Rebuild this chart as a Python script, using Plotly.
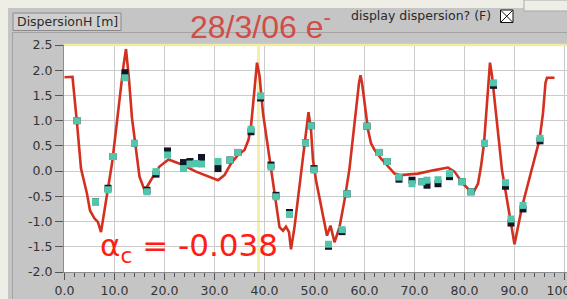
import plotly.graph_objects as go

# ---------------- data ----------------
line_x = [0, 1.6, 2.5, 3.3, 4.5, 5.1, 6.0, 6.7, 7.3, 8.2, 8.8, 9.5, 10.0, 11.0, 11.8, 12.3,
          12.9, 13.5, 14.2, 15.0, 15.9, 16.5, 17.7, 19.0, 20.8, 23.7, 26.3, 29.0, 30.7, 32.0,
          33.3, 34.7, 36.0, 36.8, 37.3, 38.0, 38.5, 39.0, 39.7, 40.5, 41.3, 42.3, 43.0, 43.7,
          44.3, 44.9, 45.3, 46.0, 47.0, 48.0, 48.5, 48.8, 49.3, 49.7, 50.3, 51.3, 52.1, 52.5,
          53.2, 54.0, 55.0, 56.0, 57.0, 57.7, 58.3, 58.9, 59.2, 59.5, 60.1, 60.7, 61.3, 62.0,
          63.3, 64.7, 66.0, 67.3, 70.7, 74.0, 76.7, 78.0, 79.7, 81.0, 81.9, 82.7, 83.3, 83.9,
          84.5, 84.9, 85.1, 85.5, 86.2, 87.0, 87.5, 88.3, 89.0, 89.7, 90.0, 90.7, 91.5, 92.7,
          93.7, 95.0, 95.7, 96.2, 96.5, 98.0]
line_d = [1.86, 1.87, 0.95, 0.05, -0.45, -0.78, -0.94, -1.01, -1.21, -0.65, -0.31, 0.15, 0.56,
          1.45, 2.09, 2.42, 1.82, 1.05, 0.45, -0.11, -0.35, -0.31, -0.11, 0.09, 0.23, 0.12,
          -0.01, -0.11, -0.18, -0.08, 0.15, 0.32, 0.42, 0.62, 0.89, 1.62, 2.15, 1.89, 1.15,
          0.6, 0.05, -0.55, -1.11, -1.18, -1.10, -1.21, -1.55, -1.11, -0.31, 0.42, 0.9, 1.17,
          0.82, 0.22, -0.18, -0.65, -1.05, -1.28, -1.08, -1.41, -1.11, -0.58, 0.05, 0.69, 1.29,
          1.75, 1.90, 1.75, 1.29, 0.82, 0.55, 0.42, 0.25, 0.09, -0.05, -0.08, -0.05, 0.02, 0.07,
          -0.01, -0.25, -0.38, -0.40, -0.25, 0.09, 0.55, 1.29, 1.89, 2.15, 1.89, 1.29, 0.49,
          0.02, -0.45, -0.85, -1.25, -1.45, -1.11, -0.71, -0.25, 0.15, 0.62, 1.15, 1.75, 1.85,
          1.85]

bpm_x = [2.5, 6.2, 8.7, 9.7, 12.1, 14.0, 16.5, 18.3, 20.6, 23.8, 25.1, 26.3, 27.4, 30.7,
         33.1, 34.7, 37.3, 39.2, 41.3, 42.3, 45.0, 48.2, 49.3, 49.9, 52.8, 55.5, 56.5, 60.5,
         62.9, 64.5, 66.9, 69.5, 71.5, 72.5, 74.7, 77.0, 79.5, 81.3, 84.0, 85.8, 88.2, 89.3,
         91.7, 95.1]
teal_d = [1.0, -0.61, -0.37, 0.29, 1.85, 0.55, -0.41, -0.01, 0.32, 0.05, 0.14, 0.15, 0.14,
          0.19, 0.22, 0.37, 0.83, 1.49, 0.08, -0.51, -0.86, 0.56, 0.90, 0.02, -1.45, -1.16,
          -0.45, 0.89, 0.37, 0.19, -0.12, -0.25, -0.21, -0.18, -0.17, -0.05, -0.21, -0.41,
          0.55, 1.75, -0.23, -0.95, -0.68, 0.65]
black_d = [1.0, -0.61, -0.34, 0.29, 1.95, 0.55, -0.38, -0.06, 0.40, 0.17, 0.19, 0.15, 0.27,
           0.05, 0.22, 0.37, 0.78, 1.45, 0.12, -0.48, -0.82, 0.56, 0.90, 0.05, -1.49, -1.20,
           -0.45, 0.89, 0.37, 0.19, -0.16, -0.18, -0.21, -0.28, -0.25, -0.11, -0.21, -0.41,
           0.55, 1.70, -0.30, -1.03, -0.75, 0.60]

x_ticks = [0, 10, 20, 30, 40, 50, 60, 70, 80, 90, 100]
x_labels = ["0.0", "10.0", "20.0", "30.0", "40.0", "50.0", "60.0", "70.0", "80.0", "90.0", "100.0"]
y_ticks = [-2.0, -1.5, -1.0, -0.5, 0.0, 0.5, 1.0, 1.5, 2.0, 2.5]
y_labels = ["-2.0", "-1.5", "-1.0", "-0.5", "0.0", "0.5", "1.0", "1.5", "2.0", "2.5"]
cursor_x = 38.8

# ---------------- layout geometry ----------------
W, H = 567, 299
L, R, T, B = 64, 567, 45, 272


def px(xp):
    return (xp - L) / (R - L)


def py(yp):
    return (B - yp) / (B - T)


fig = go.Figure()
fig.add_trace(go.Scatter(x=line_x, y=line_d, mode="lines",
                         line=dict(color="#d3301f", width=2.6), hoverinfo="skip"))
fig.add_trace(go.Scatter(x=bpm_x, y=black_d, mode="markers",
                         marker=dict(symbol="square", size=7, color="#101626"), hoverinfo="skip"))
fig.add_trace(go.Scatter(x=bpm_x, y=teal_d, mode="markers",
                         marker=dict(symbol="square", size=7, color="#52c6ad"), hoverinfo="skip"))

beige = "#eeeee7"
shapes = [
    dict(type="rect", xref="paper", yref="paper", x0=px(0), x1=px(W), y0=py(0), y1=py(8),
         fillcolor=beige, line=dict(width=0), layer="below"),
    dict(type="rect", xref="paper", yref="paper", x0=px(0), x1=px(8), y0=py(0), y1=py(H),
         fillcolor=beige, line=dict(width=0), layer="below"),
    dict(type="rect", xref="paper", yref="paper", x0=px(524), x1=px(W + 2), y0=py(0), y1=py(11),
         fillcolor=beige, line=dict(color="#a8a8a8", width=1), layer="below"),
    dict(type="line", xref="paper", yref="paper", x0=px(12.5), x1=px(12.5), y0=py(32), y1=py(H),
         line=dict(color="#a4a4a4", width=1)),
    dict(type="line", xref="paper", yref="paper", x0=px(12), x1=px(W), y0=py(32.5), y1=py(32.5),
         line=dict(color="#a4a4a4", width=1)),
    dict(type="rect", xref="paper", yref="paper", x0=px(13), x1=px(121), y0=py(13), y1=py(30.5),
         fillcolor="#cfcfcf", line=dict(color="#8a8a8a", width=1)),
    # checkbox
    dict(type="rect", xref="paper", yref="paper", x0=px(500.5), x1=px(513), y0=py(10), y1=py(22.5),
         fillcolor="white", line=dict(color="#111", width=1)),
    dict(type="line", xref="paper", yref="paper", x0=px(501), x1=px(512.5), y0=py(10.5), y1=py(22),
         line=dict(color="#111", width=1)),
    dict(type="line", xref="paper", yref="paper", x0=px(501), x1=px(512.5), y0=py(22), y1=py(10.5),
         line=dict(color="#111", width=1)),
    # yellow cursor and top edge
    dict(type="line", xref="x", yref="paper", x0=cursor_x, x1=cursor_x, y0=0, y1=1,
         line=dict(color="#f5f0a8", width=3), layer="below"),
    dict(type="line", xref="paper", yref="paper", x0=0, x1=1, y0=1, y1=1,
         line=dict(color="#f0eca6", width=2.5)),
]

annotations = [
    dict(text="DispersionH [m]", xref="paper", yref="paper", x=px(15), y=py(21.5),
         xanchor="left", yanchor="middle", showarrow=False,
         font=dict(family="DejaVu Sans", size=12.5, color="#2a2a2a")),
    dict(text="28/3/06 e<sup>-</sup>", xref="paper", yref="paper", x=px(188), y=py(25),
         xanchor="left", yanchor="middle", showarrow=False,
         font=dict(family="Liberation Sans", size=32, color="#d24c48")),
    dict(text="display dispersion? (F)", xref="paper", yref="paper", x=px(349), y=py(16),
         xanchor="left", yanchor="middle", showarrow=False,
         font=dict(family="DejaVu Sans", size=12.5, color="#2a2a2a")),
    dict(text="α<sub>c</sub> = -0.038", xref="paper", yref="paper", x=px(98), y=py(247),
         xanchor="left", yanchor="middle", showarrow=False,
         font=dict(family="DejaVu Sans", size=31, color="#ff1e14")),
]

fig.update_layout(
    width=W, height=H,
    margin=dict(l=L, r=W - R, t=T, b=H - B, pad=0, autoexpand=False),
    paper_bgcolor="#c5c5c5",
    plot_bgcolor="white",
    showlegend=False,
    hovermode=False,
    shapes=shapes,
    annotations=annotations,
    xaxis=dict(range=[-0.1, (R - L) / 5 - 0.1], tickvals=x_ticks, ticktext=x_labels,
               showgrid=True, gridcolor="#cbcbcb", gridwidth=1, zeroline=False,
               showline=True, linecolor="#8c8c8c", linewidth=1, automargin=False,
               ticks="outside", ticklen=7, tickcolor="#555", tickwidth=1,
               ticklabeloverflow="allow",
               minor=dict(dtick=2, tick0=0, ticks="outside", ticklen=4, tickcolor="#555",
                          showgrid=False),
               tickfont=dict(family="DejaVu Sans", size=12.5, color="#333")),
    yaxis=dict(range=[-2.0, 2.5], tickvals=y_ticks, ticktext=y_labels,
               showgrid=True, gridcolor="#cbcbcb", gridwidth=1, zeroline=False,
               showline=True, linecolor="#8c8c8c", linewidth=1, automargin=False,
               ticks="outside", ticklen=8, tickcolor="#555", tickwidth=1,
               tickfont=dict(family="DejaVu Sans", size=12.5, color="#333")),
)

fig.write_html("out.html", config={"displayModeBar": False},
               post_script="document.body.style.margin='0';document.body.style.overflow='hidden';")
